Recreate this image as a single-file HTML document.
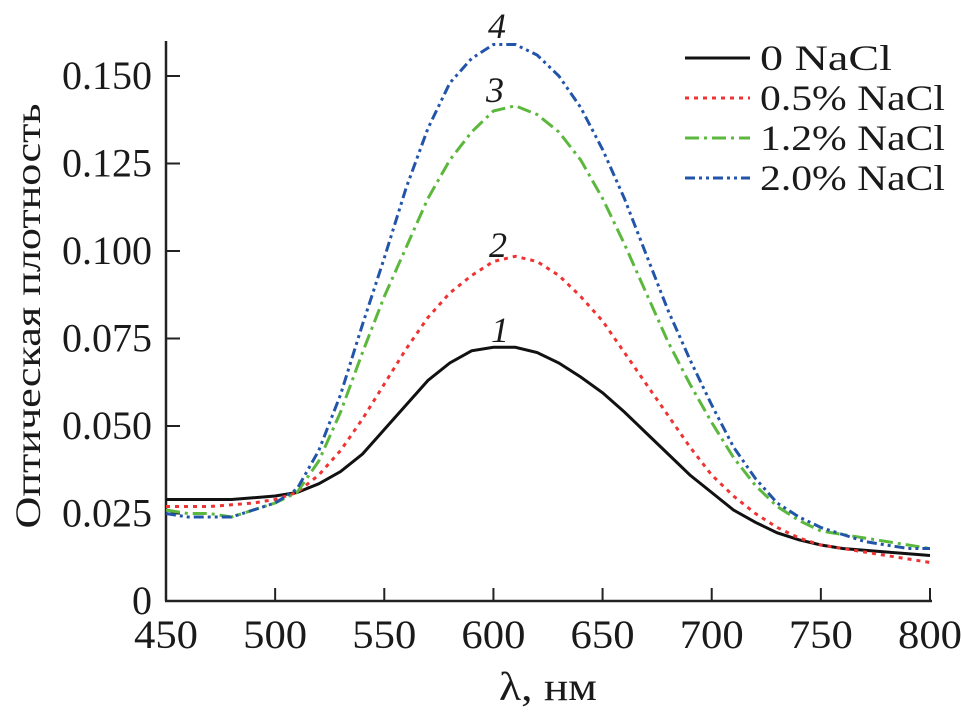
<!DOCTYPE html>
<html><head><meta charset="utf-8"><style>
body{margin:0;background:#fff}
svg text{font-family:"Liberation Serif",serif;fill:#1a1a1a}
</style></head><body>
<svg id="chart" width="961" height="711" xmlns="http://www.w3.org/2000/svg">
<g id="axes"></g><g id="series"></g>
<text transform="translate(40,316) rotate(-90)" text-anchor="middle" font-size="36" textLength="425" lengthAdjust="spacingAndGlyphs">Оптическая плотность</text>
<text x="548" y="700" text-anchor="middle" font-size="40" textLength="98" lengthAdjust="spacingAndGlyphs">λ, нм</text>
<g font-style="italic" font-size="36">
<text x="497" y="38" text-anchor="middle">4</text>
<text x="495" y="102" text-anchor="middle">3</text>
<text x="498" y="257" text-anchor="middle">2</text>
<text x="500" y="342" text-anchor="middle">1</text>
</g>
<g id="legend"></g>
</svg>
<script>
const wavelengths=[450,460,470,480,490,500,510,520,530,540,550,560,570,580,590,600,610,620,630,640,650,660,670,680,690,700,710,720,730,740,750,760,770,780,790,800];
const s0=[.029,.029,.029,.029,.0295,.030,.031,.0335,.037,.042,.049,.056,.063,.068,.0715,.0725,.0725,.071,.068,.064,.0595,.054,.048,.042,.036,.031,.026,.0225,.0195,.0175,.016,.015,.0145,.014,.0135,.013];
const s1=[.027,.027,.027,.0275,.028,.029,.031,.036,.043,.052,.062,.072,.081,.088,.093,.097,.0985,.097,.093,.087,.080,.071,.062,.053,.044,.036,.030,.025,.021,.018,.016,.015,.014,.013,.012,.011];
const s2=[.026,.025,.025,.024,.026,.028,.031,.040,.054,.071,.087,.101,.115,.126,.134,.140,.1415,.139,.134,.126,.115,.102,.088,.074,.062,.051,.041,.033,.027,.023,.020,.019,.018,.017,.016,.015];
const s3=[.025,.024,.024,.024,.026,.028,.032,.043,.059,.079,.098,.118,.135,.148,.155,.159,.159,.156,.150,.141,.129,.115,.099,.083,.069,.056,.044,.035,.028,.024,.021,.019,.017,.016,.015,.015];
const seriesNames=["0 NaCl","0.5% NaCl","1.2% NaCl","2.0% NaCl"];
const legendLens=[132,185,185,185];
const xTicks=[450,500,550,600,650,700,750,800];
const yTicks=[0,0.025,0.05,0.075,0.1,0.125,0.15];
const yTickLabels=["0","0.025","0.050","0.075","0.100","0.125","0.150"];
const NS="http://www.w3.org/2000/svg";
const X=v=>166+(v-450)*(930-166)/350;
const Y=v=>601-v*3500;
function mk(t,a,p){const e=document.createElementNS(NS,t);for(const k in a)e.setAttribute(k,a[k]);p.appendChild(e);return e;}
const ax=document.getElementById('axes');
let l=mk('line',{x1:166,y1:41,x2:166,y2:601,stroke:'#222','stroke-width':2.5},ax);


l=mk('line',{x1:165,y1:601,x2:932,y2:601,stroke:'#222','stroke-width':2.5},ax);


xTicks.forEach(v=>{
 if(v>450){const t=mk('line',{x1:X(v),y1:601,x2:X(v),y2:588,stroke:'#222','stroke-width':2},ax);
 
 }
 const tx=mk('text',{x:X(v),y:648,'text-anchor':'middle','font-size':40,textLength:64,lengthAdjust:'spacingAndGlyphs'},ax);tx.textContent=v;
 
 
});
yTicks.forEach((v,i)=>{
 if(v>0){const t=mk('line',{x1:166,y1:Y(v),x2:180,y2:Y(v),stroke:'#222','stroke-width':2},ax);
 
 }
 const a={x:152,y:Y(v)+13,'text-anchor':'end','font-size':40};
 if(i>0){a.textLength=90;a.lengthAdjust='spacingAndGlyphs';}
 const tx=mk('text',a,ax);tx.textContent=yTickLabels[i];
 
 
});
const styles=[{c:'#111',d:''},{c:'#ee3333',d:'4,5'},{c:'#5cb83c',d:'14,5,3,5'},{c:'#2255aa',d:'10,4,3,4,3,4'}];
const sg=document.getElementById('series'),lg=document.getElementById('legend');
[s0,s1,s2,s3].forEach((s,i)=>{
 const p=mk('path',{d:s.map((v,j)=>(j?'L':'M')+X(wavelengths[j]).toFixed(1)+','+Y(v).toFixed(1)).join(''),fill:'none',stroke:styles[i].c,'stroke-width':3,'stroke-dasharray':styles[i].d},sg);
 
 
 const y=58+i*40;
 const ll=mk('line',{x1:685,y1:y,x2:750,y2:y,stroke:styles[i].c,'stroke-width':3,'stroke-dasharray':styles[i].d},lg);
 
 
 const t=mk('text',{x:760,y:y+12,'font-size':36,textLength:legendLens[i],lengthAdjust:'spacingAndGlyphs'},lg);t.textContent=seriesNames[i];
 
 
});
</script>
</body></html>
